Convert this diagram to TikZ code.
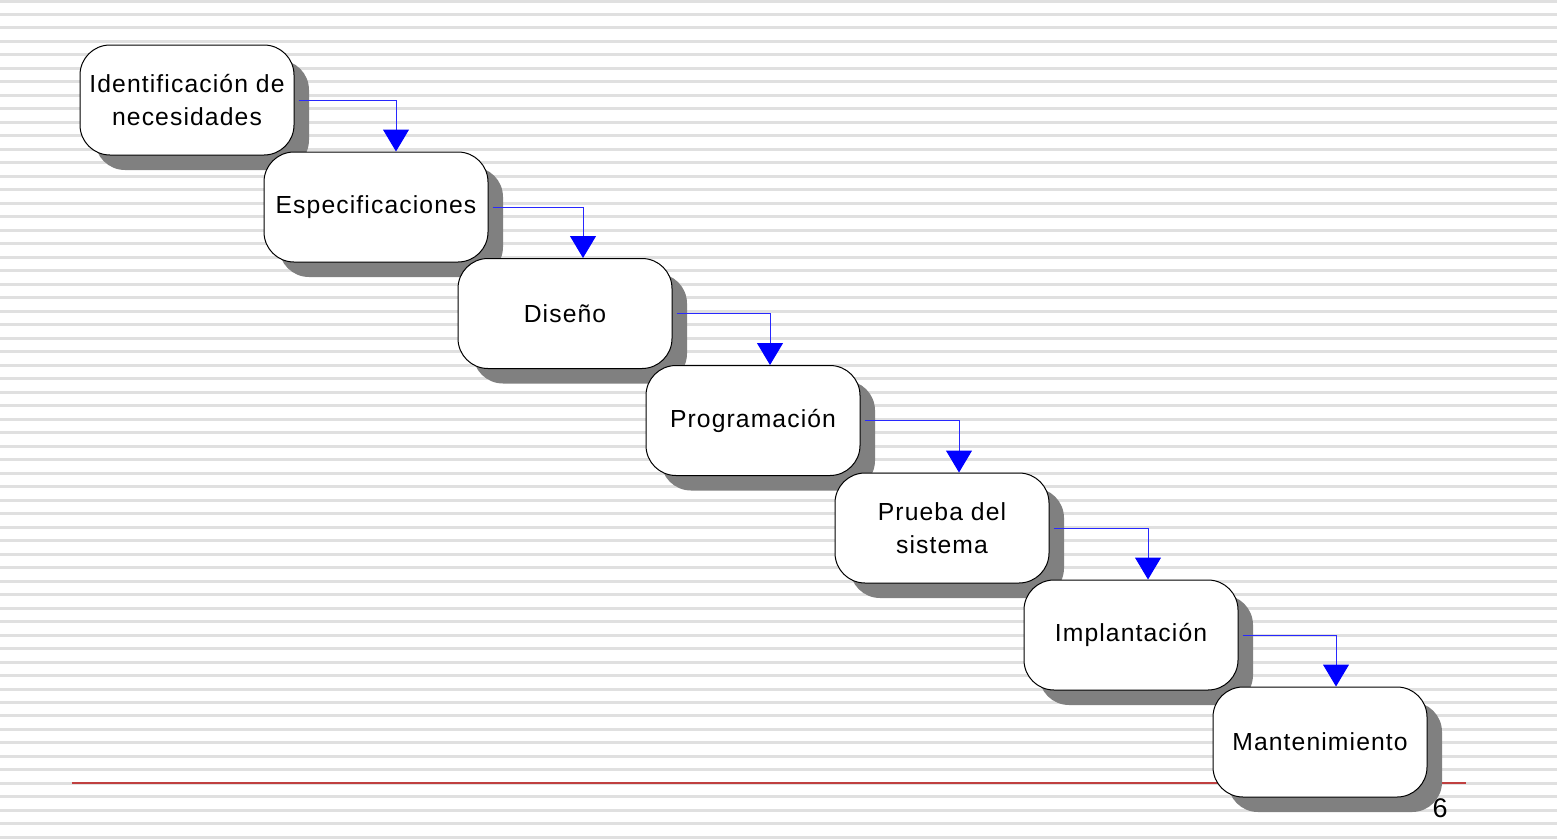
\documentclass[tikz,border=0pt]{standalone}
\usepackage{fontspec}
\setmainfont{Liberation Sans}[LetterSpace=4.5]
\usetikzlibrary{arrows.meta,shadows}
\definecolor{stripegray}{RGB}{224,224,224}
\definecolor{shadowgray}{RGB}{128,128,128}
\definecolor{footred}{RGB}{192,64,64}
\definecolor{linkblue}{RGB}{40,40,255}
\tikzset{
  stagebox/.style={draw=black, line width=1pt, fill=white, rounded corners=30pt,
    minimum width=214pt, minimum height=110pt, inner sep=0pt, align=center,
    font=\fontsize{24.7}{33}\selectfont,
    drop shadow={shadow xshift=15pt, shadow yshift=-15pt, fill=shadowgray, opacity=1}},
  flow/.style={draw=linkblue, line width=1pt, shorten <=4pt,
    -{Triangle[width=26pt,length=22pt,fill=blue,color=blue]}},
  stripe/.style={fill=stripegray},
}
\begin{document}
\begin{tikzpicture}[x=1pt,y=-1pt]
\useasboundingbox (0,0) rectangle (1557,838);
\fill[white] (0,0) rectangle (1557,838);
\foreach \i in {0,...,62}{
  \fill[stripe] (0,{1+13.49*\i-1.5}) rectangle (1557,{1+13.49*\i+1.5});
}
\draw[footred, line width=1.5pt] (72,783) coordinate (fl) -- (1466,783) coordinate (fr);
\node[stagebox] (n1) at (187,100) {Identificación de\\necesidades};
\node[stagebox, minimum width=224pt] (n2) at (376,207) {Especificaciones};
\node[stagebox] (n3) at (565,313.5) {Diseño};
\node[stagebox] (n4) at (753,420.5) {Programación};
\node[stagebox] (n5) at (942,528) {Prueba del\\sistema};
\node[stagebox] (n6) at (1131,635) {Implantación};
\node[stagebox] (n7) at (1320,742) {Mantenimiento};
\draw[flow] (n1.east) -| ([xshift=20pt]n2.north);
\draw[flow] (n2.east) -| ([xshift=18pt]n3.north);
\draw[flow] (n3.east) -| ([xshift=17pt]n4.north);
\draw[flow] (n4.east) -| ([xshift=17pt]n5.north);
\draw[flow] (n5.east) -| ([xshift=17pt]n6.north);
\draw[flow] (n6.east) -| ([xshift=16pt]n7.north);
\node[font=\fontsize{27}{30}\selectfont, inner sep=0pt] (pg) at (1440,808) {6};
\end{tikzpicture}
\end{document}
